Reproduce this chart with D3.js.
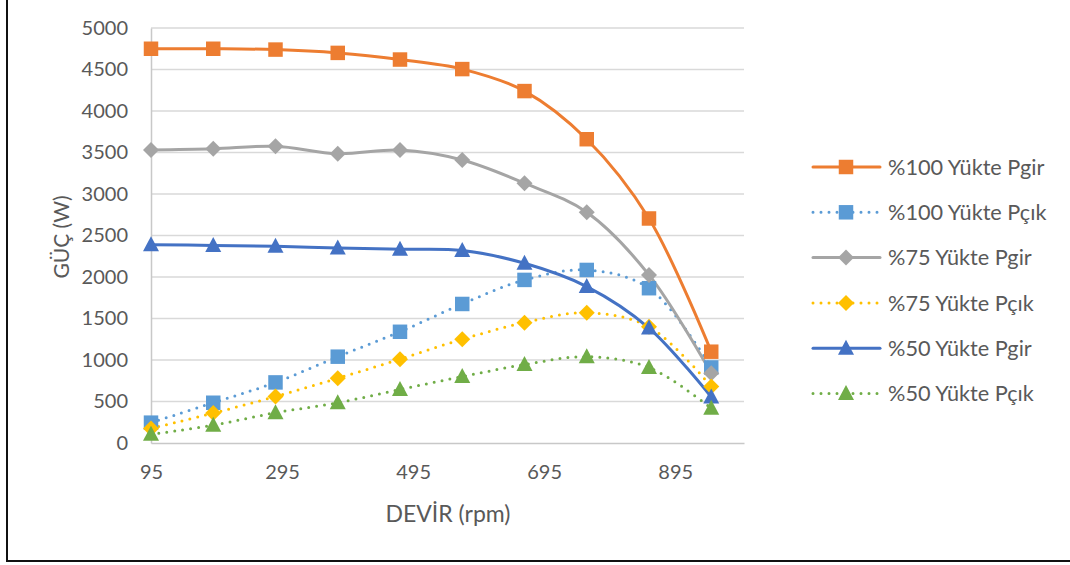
<!DOCTYPE html>
<html>
<head>
<meta charset="utf-8">
<script src="https://cdn.jsdelivr.net/npm/d3@7"></script>
<style>
  html, body { margin: 0; padding: 0; background: #fff; }
  svg { display: block; font-family: Lato, "Open Sans", sans-serif; }
</style>
</head>
<body>
<svg id="chart" width="1070" height="565"></svg>
<script>
// Rotational speed (rpm) at each measurement
const devir = [95, 190, 285, 380, 475, 570, 665, 760, 855, 950];

// Power readings (W) per load case
const pgir100 = [4750, 4750, 4740, 4700, 4620, 4505, 4240, 3660, 2705, 1100];
const pcik100 = [245, 485, 730, 1040, 1340, 1675, 1965, 2085, 1865, 910];
const pgir75  = [3530, 3545, 3575, 3485, 3530, 3410, 3130, 2780, 2025, 840];
const pcik75  = [175, 360, 560, 780, 1010, 1250, 1450, 1570, 1400, 680];
const pgir50  = [2390, 2380, 2370, 2350, 2335, 2320, 2165, 1885, 1385, 555];
const pcik50  = [105, 215, 365, 485, 645, 800, 945, 1040, 910, 420];

const seriesNames = ["%100 Yükte Pgir", "%100 Yükte Pçık", "%75 Yükte Pgir",
                     "%75 Yükte Pçık", "%50 Yükte Pgir", "%50 Yükte Pçık"];
const xTicks = [95, 295, 495, 695, 895];
const yTicks = [0, 500, 1000, 1500, 2000, 2500, 3000, 3500, 4000, 4500, 5000];

const series = [
  { name: seriesNames[0], values: pgir100, color: "#ED7D31", dotted: false, marker: "square" },
  { name: seriesNames[1], values: pcik100, color: "#5B9BD5", dotted: true,  marker: "square" },
  { name: seriesNames[2], values: pgir75,  color: "#A5A5A5", dotted: false, marker: "diamond" },
  { name: seriesNames[3], values: pcik75,  color: "#FFC000", dotted: true,  marker: "diamond" },
  { name: seriesNames[4], values: pgir50,  color: "#4472C4", dotted: false, marker: "triangle" },
  { name: seriesNames[5], values: pcik50,  color: "#70AD47", dotted: true,  marker: "triangle" }
];

const svg = d3.select("#chart");
const textColor = "#595959";

// Outer frame
svg.append("rect")
  .attr("x", 7).attr("y", -5)
  .attr("width", 1080).attr("height", 566)
  .attr("fill", "none").attr("stroke", "#111").attr("stroke-width", 2);

const x = d3.scaleLinear().domain([95, 1000]).range([151, 744]);
const y = d3.scaleLinear().domain([0, 5000]).range([443, 28]);

// Horizontal gridlines
svg.append("g")
  .selectAll("line")
  .data(yTicks.filter(d => d > 0))
  .join("line")
  .attr("x1", x.range()[0]).attr("x2", x.range()[1])
  .attr("y1", d => y(d)).attr("y2", d => y(d))
  .attr("stroke", "#d9d9d9").attr("stroke-width", 1.5);

// Y axis
const yAxis = svg.append("g")
  .attr("transform", `translate(${x.range()[0]},0)`)
  .call(d3.axisLeft(y).tickValues(yTicks).tickSize(0).tickPadding(23).tickFormat(d3.format("d")));
yAxis.select(".domain").attr("stroke", "#c8c8c8").attr("stroke-width", 1.5);
yAxis.selectAll("text").attr("fill", textColor).attr("font-size", 20)
  .attr("font-family", "Lato, 'Open Sans', sans-serif");

// X axis
const xAxis = svg.append("g")
  .attr("transform", `translate(0,${y(0)})`)
  .call(d3.axisBottom(x).tickValues(xTicks).tickSize(0).tickPadding(22).tickFormat(d3.format("d")));
xAxis.select(".domain").attr("stroke", "#c8c8c8").attr("stroke-width", 1.5);
xAxis.selectAll("text").attr("fill", textColor).attr("font-size", 20)
  .attr("font-family", "Lato, 'Open Sans', sans-serif");

// Axis titles
svg.append("text")
  .attr("x", 448).attr("y", 522)
  .attr("text-anchor", "middle")
  .attr("fill", textColor).attr("font-size", 23)
  .text("DEVİR (rpm)");

svg.append("text")
  .attr("transform", "translate(69,237) rotate(-90)")
  .attr("text-anchor", "middle")
  .attr("fill", textColor).attr("font-size", 21)
  .text("GÜÇ (W)");

// Marker shapes
const markerPath = {
  square: d3.symbol().type(d3.symbolSquare).size(210)(),
  diamond: "M0,-8L8,0L0,8L-8,0Z",
  triangle: "M0,-8.5L8,6.5L-8,6.5Z"
};

const line = d3.line()
  .x((d, i) => x(devir[i]))
  .y(d => y(d))
  .curve(d3.curveCatmullRom.alpha(0.5));

const plot = svg.append("g");

series.forEach(s => {
  plot.append("path")
    .datum(s.values)
    .attr("d", line)
    .attr("fill", "none")
    .attr("stroke", s.color)
    .attr("stroke-width", 3)
    .attr("stroke-linecap", "round")
    .attr("stroke-dasharray", s.dotted ? "0 8" : null);
});

series.forEach(s => {
  plot.append("g")
    .selectAll("path")
    .data(s.values)
    .join("path")
    .attr("transform", (d, i) => `translate(${x(devir[i])},${y(d)})`)
    .attr("d", markerPath[s.marker])
    .attr("fill", s.color);
});

// Legend
const legend = svg.append("g");
series.forEach((s, i) => {
  const ly = 167 + i * 45.3;
  const g = legend.append("g").attr("transform", `translate(0,${ly})`);
  g.append("line")
    .attr("x1", 813).attr("x2", 880)
    .attr("y1", 0).attr("y2", 0)
    .attr("stroke", s.color).attr("stroke-width", 3)
    .attr("stroke-linecap", "round")
    .attr("stroke-dasharray", s.dotted ? "0 8" : null);
  g.append("path")
    .attr("transform", "translate(846,0)")
    .attr("d", markerPath[s.marker])
    .attr("fill", s.color);
  g.append("text")
    .attr("x", 888).attr("y", 0).attr("dy", "0.35em")
    .attr("fill", textColor).attr("font-size", 21.7)
    .text(s.name);
});
</script>
</body>
</html>
